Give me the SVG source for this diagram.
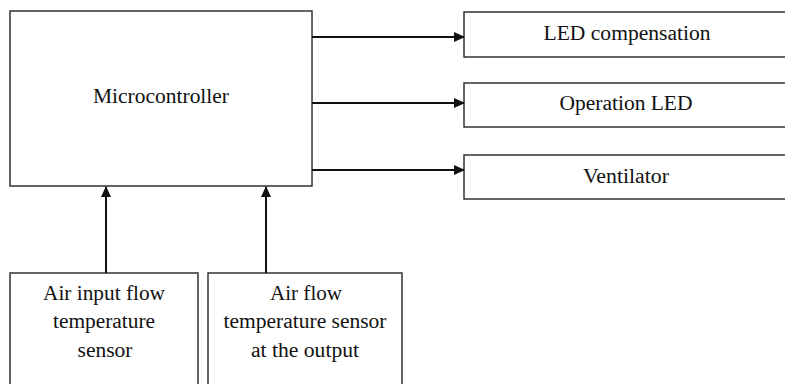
<svg xmlns="http://www.w3.org/2000/svg" width="785" height="384" viewBox="0 0 785 384">
<defs>
<style>
.box{fill:#fff;stroke:#333;stroke-width:1.5}
.t{font-family:'Liberation Serif','Times New Roman','DejaVu Serif','Noto Serif',serif;font-size:20px;fill:#111;text-anchor:middle}
.c{stroke:#111;stroke-width:2;fill:none}
</style>
<marker id="ah" markerWidth="11" markerHeight="11" refX="10" refY="5.5" orient="auto" markerUnits="userSpaceOnUse">
<path d="M0,0.5 L11,5.5 L0,10.5 Z" fill="#111"/>
</marker>
</defs>
<rect width="785" height="384" fill="#fff"/>
<g id="microcontroller">
<rect class="box" x="10" y="11" width="302" height="175"/>
<text class="t" x="161" y="103" textLength="136" lengthAdjust="spacingAndGlyphs">Microcontroller</text>
</g>
<g id="led-compensation">
<rect class="box" x="464" y="12" width="325" height="45"/>
<text class="t" x="627" y="40" textLength="167" lengthAdjust="spacingAndGlyphs">LED compensation</text>
</g>
<g id="operation-led">
<rect class="box" x="464" y="83" width="325" height="44"/>
<text class="t" x="626" y="110" textLength="133" lengthAdjust="spacingAndGlyphs">Operation LED</text>
</g>
<g id="ventilator">
<rect class="box" x="464" y="155" width="325" height="44"/>
<text class="t" x="626" y="183" textLength="86" lengthAdjust="spacingAndGlyphs">Ventilator</text>
</g>
<g id="air-input-sensor">
<rect class="box" x="10" y="273" width="188" height="120"/>
<text class="t" x="104" y="300" textLength="122" lengthAdjust="spacingAndGlyphs">Air input flow</text>
<text class="t" x="104" y="328" textLength="102" lengthAdjust="spacingAndGlyphs">temperature</text>
<text class="t" x="105" y="357" textLength="55" lengthAdjust="spacingAndGlyphs">sensor</text>
</g>
<g id="air-output-sensor">
<rect class="box" x="208" y="273" width="194" height="120"/>
<text class="t" x="306" y="300" textLength="72" lengthAdjust="spacingAndGlyphs">Air flow</text>
<text class="t" x="305" y="328" textLength="163" lengthAdjust="spacingAndGlyphs">temperature sensor</text>
<text class="t" x="305" y="357" textLength="108" lengthAdjust="spacingAndGlyphs">at the output</text>
</g>
<g id="connectors">
<line class="c" x1="312" y1="37" x2="464" y2="37" marker-end="url(#ah)"/>
<line class="c" x1="312" y1="103" x2="464" y2="103" marker-end="url(#ah)"/>
<line class="c" x1="312" y1="170" x2="464" y2="170" marker-end="url(#ah)"/>
<line class="c" x1="106" y1="273" x2="106" y2="187" marker-end="url(#ah)"/>
<line class="c" x1="266" y1="273" x2="266" y2="187" marker-end="url(#ah)"/>
</g>
</svg>
